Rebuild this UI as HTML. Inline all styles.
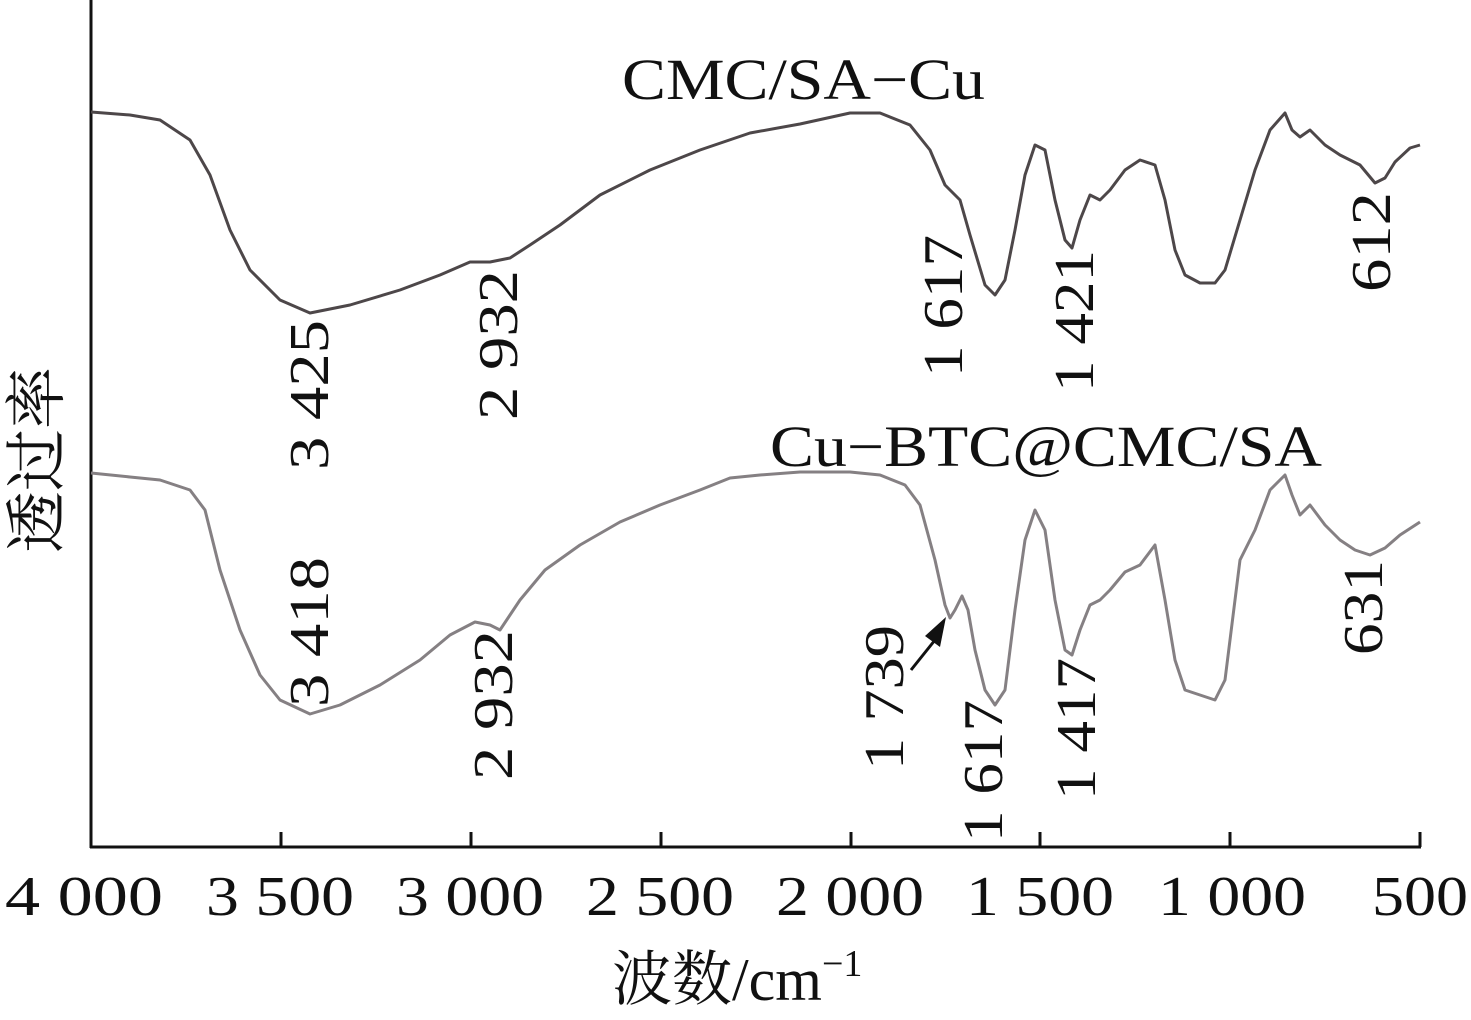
<!DOCTYPE html>
<html><head><meta charset="utf-8"><style>html,body{margin:0;padding:0;background:#fff}svg{display:block}text{font-family:"Liberation Serif","Noto Serif CJK SC",serif;fill:#111}</style></head><body>
<svg width="1471" height="1020" viewBox="0 0 1471 1020" xmlns="http://www.w3.org/2000/svg">
<g stroke="#111" stroke-width="3" fill="none">
<line x1="91" y1="0" x2="91" y2="848"/>
<line x1="90" y1="847" x2="1421" y2="847"/>
<line x1="281" y1="847" x2="281" y2="832"/>
<line x1="471" y1="847" x2="471" y2="832"/>
<line x1="661" y1="847" x2="661" y2="832"/>
<line x1="851" y1="847" x2="851" y2="832"/>
<line x1="1040" y1="847" x2="1040" y2="832"/>
<line x1="1230" y1="847" x2="1230" y2="832"/>
<line x1="1420" y1="847" x2="1420" y2="832"/>
</g>
<polyline fill="none" stroke="#4d4749" stroke-width="3" stroke-linejoin="round" points="91,112 130,115 160,120 190,140 210,175 230,230 250,270 280,300 310,313 350,305 400,290 440,275 470,262 490,262 510,258 530,245 560,225 600,195 650,170 700,150 750,133 800,124 850,113 880,113 910,125 930,150 945,185 960,200 970,235 985,285 995,295 1005,280 1015,230 1025,175 1035,145 1045,150 1055,200 1065,240 1072,248 1080,220 1090,195 1100,200 1110,190 1125,170 1140,160 1155,165 1165,200 1175,250 1185,275 1200,283 1215,283 1225,270 1240,220 1255,170 1270,130 1285,113 1292,130 1300,137 1310,130 1325,145 1340,155 1360,165 1375,183 1385,178 1395,162 1410,148 1420,145"/>
<polyline fill="none" stroke="#858083" stroke-width="3" stroke-linejoin="round" points="91,473 130,477 160,480 190,490 205,510 220,570 240,630 260,675 280,700 310,714 340,705 380,685 420,660 450,635 475,622 490,625 500,630 520,600 545,570 580,545 620,522 660,505 700,490 730,478 760,475 800,472 850,472 880,475 905,485 920,505 935,560 945,605 950,618 955,610 962,596 968,610 975,650 985,690 995,705 1005,690 1015,610 1025,540 1035,510 1045,530 1055,600 1065,650 1072,655 1080,630 1090,605 1100,600 1110,590 1125,572 1140,565 1155,545 1165,600 1175,660 1185,690 1200,695 1215,700 1225,680 1240,560 1255,530 1270,490 1285,475 1292,495 1300,515 1310,505 1325,525 1340,540 1355,550 1370,555 1385,548 1400,535 1420,522"/>
<line x1="911" y1="670" x2="935" y2="640" stroke="#111" stroke-width="3"/>
<polygon points="946,617 925,636 940,647" fill="#111"/>
<g font-size="56">
<text x="5" y="915" textLength="158" lengthAdjust="spacingAndGlyphs">4 000</text>
<text x="206" y="915" textLength="148" lengthAdjust="spacingAndGlyphs">3 500</text>
<text x="396" y="915" textLength="148" lengthAdjust="spacingAndGlyphs">3 000</text>
<text x="586" y="915" textLength="148" lengthAdjust="spacingAndGlyphs">2 500</text>
<text x="776" y="915" textLength="148" lengthAdjust="spacingAndGlyphs">2 000</text>
<text x="966" y="915" textLength="148" lengthAdjust="spacingAndGlyphs">1 500</text>
<text x="1158" y="915" textLength="148" lengthAdjust="spacingAndGlyphs">1 000</text>
<text x="1372" y="915" textLength="96" lengthAdjust="spacingAndGlyphs">500</text>
</g>
<text x="622" y="99" font-size="58" textLength="363" lengthAdjust="spacingAndGlyphs">CMC/SA−Cu</text>
<text x="770" y="466" font-size="58" textLength="552" lengthAdjust="spacingAndGlyphs">Cu−BTC@CMC/SA</text>
<text x="612" y="1000" font-size="60">波数/cm<tspan font-size="38" dy="-24">−1</tspan></text>
<text transform="translate(58,460) rotate(-90)" font-size="62" text-anchor="middle">透过率</text>
<g font-size="56">
<text transform="translate(328,470) rotate(-90)" textLength="150" lengthAdjust="spacingAndGlyphs">3 425</text>
<text transform="translate(517,420) rotate(-90)" textLength="150" lengthAdjust="spacingAndGlyphs">2 932</text>
<text transform="translate(962,377) rotate(-90)" textLength="142" lengthAdjust="spacingAndGlyphs">1 617</text>
<text transform="translate(1093,392) rotate(-90)" textLength="142" lengthAdjust="spacingAndGlyphs">1 421</text>
<text transform="translate(1390,292) rotate(-90)" textLength="100" lengthAdjust="spacingAndGlyphs">612</text>
<text transform="translate(328,707) rotate(-90)" textLength="150" lengthAdjust="spacingAndGlyphs">3 418</text>
<text transform="translate(512,780) rotate(-90)" textLength="150" lengthAdjust="spacingAndGlyphs">2 932</text>
<text transform="translate(903,770) rotate(-90)" textLength="145" lengthAdjust="spacingAndGlyphs">1 739</text>
<text transform="translate(1002,842) rotate(-90)" textLength="142" lengthAdjust="spacingAndGlyphs">1 617</text>
<text transform="translate(1095,800) rotate(-90)" textLength="142" lengthAdjust="spacingAndGlyphs">1 417</text>
<text transform="translate(1382,655) rotate(-90)" textLength="95" lengthAdjust="spacingAndGlyphs">631</text>
</g>
</svg>
</body></html>
